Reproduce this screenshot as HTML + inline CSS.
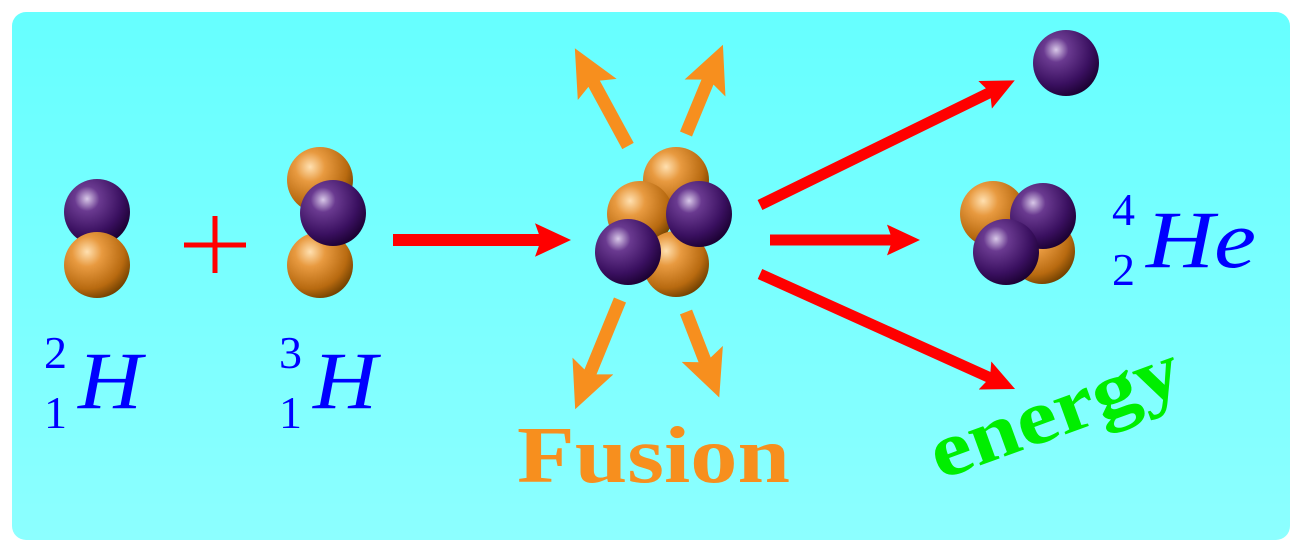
<!DOCTYPE html>
<html><head><meta charset="utf-8"><style>
html,body{margin:0;padding:0;background:#fff;width:1301px;height:551px;overflow:hidden}
svg{display:block}
</style></head><body>
<svg width="1301" height="551" viewBox="0 0 1301 551">
<defs>
<linearGradient id="bg" x1="0" y1="0" x2="0" y2="1"><stop offset="0" stop-color="#66ffff"/><stop offset="1" stop-color="#8cffff"/></linearGradient>
<radialGradient id="pu" cx="0.35" cy="0.3" r="0.75"><stop offset="0" stop-color="#d8c8e8"/><stop offset="0.25" stop-color="#6a3a90"/><stop offset="0.7" stop-color="#3a1060"/><stop offset="1" stop-color="#1a0030"/></radialGradient>
<radialGradient id="or" cx="0.35" cy="0.3" r="0.75"><stop offset="0" stop-color="#ffe0b0"/><stop offset="0.3" stop-color="#e89a40"/><stop offset="0.75" stop-color="#b86a10"/><stop offset="1" stop-color="#704000"/></radialGradient>
<marker id="rh" markerWidth="6" markerHeight="6" refX="1" refY="3" orient="auto" markerUnits="strokeWidth"><path d="M0,1.6 L3,3 L0,4.4 L0.5,3 Z" fill="#ff0000"/></marker>
<marker id="oh" markerWidth="6" markerHeight="6" refX="1" refY="3" orient="auto" markerUnits="strokeWidth"><path d="M0,1.3 L3.6,3 L0,4.7 L0.7,3 Z" fill="#f78f1e"/></marker>
</defs>
<rect x="12" y="12" width="1278" height="528" rx="14" fill="url(#bg)"/>
<g>
<circle cx="97" cy="212" r="33" fill="url(#pu)"/>
<circle cx="97" cy="265" r="33" fill="url(#or)"/>
</g>
<g stroke="#ff0000" stroke-width="5">
<line x1="184" y1="245" x2="246" y2="245"/><line x1="215" y1="216" x2="215" y2="273"/>
</g>
<g>
<circle cx="320" cy="180" r="33" fill="url(#or)"/>
<circle cx="320" cy="265" r="33" fill="url(#or)"/>
<circle cx="333" cy="213" r="33" fill="url(#pu)"/>
</g>
<line x1="393" y1="240" x2="547" y2="240" stroke="#ff0000" stroke-width="12" marker-end="url(#rh)"/>
<g>
<circle cx="676" cy="180" r="33" fill="url(#or)"/>
<circle cx="640" cy="214" r="33" fill="url(#or)"/>
<circle cx="676" cy="264" r="33" fill="url(#or)"/>
<circle cx="699" cy="214" r="33" fill="url(#pu)"/>
<circle cx="628" cy="252" r="33" fill="url(#pu)"/>
</g>
<g stroke="#f78f1e" stroke-width="13">
<line x1="628" y1="146" x2="591" y2="78" marker-end="url(#oh)"/>
<line x1="686" y1="134" x2="710" y2="76" marker-end="url(#oh)"/>
<line x1="620" y1="300" x2="588" y2="378" marker-end="url(#oh)"/>
<line x1="686" y1="312" x2="707" y2="366" marker-end="url(#oh)"/>
</g>
<g stroke="#ff0000" stroke-width="11">
<line x1="760" y1="205" x2="995" y2="90" marker-end="url(#rh)"/>
<line x1="770" y1="240" x2="898" y2="240" marker-end="url(#rh)"/>
<line x1="760" y1="274" x2="995" y2="380" marker-end="url(#rh)"/>
</g>
<circle cx="1066" cy="63" r="33" fill="url(#pu)"/>
<g>
<circle cx="993" cy="214" r="33" fill="url(#or)"/>
<circle cx="1042" cy="251" r="33" fill="url(#or)"/>
<circle cx="1043" cy="216" r="33" fill="url(#pu)"/>
<circle cx="1006" cy="252" r="33" fill="url(#pu)"/>
</g>
<g font-family="'Liberation Serif',serif" fill="#0000ff">
<g>
<text x="44" y="368" font-size="46">2</text><text x="44" y="428" font-size="46">1</text>
<text x="78" y="408" font-size="82" font-style="italic" textLength="64" lengthAdjust="spacingAndGlyphs">H</text></g>
<g>
<text x="279" y="368" font-size="46">3</text><text x="279" y="428" font-size="46">1</text>
<text x="313" y="408" font-size="82" font-style="italic" textLength="64" lengthAdjust="spacingAndGlyphs">H</text></g>
<g>
<text x="1112" y="225" font-size="46">4</text><text x="1112" y="285" font-size="46">2</text>
<text x="1146" y="267" font-size="82" font-style="italic" textLength="110" lengthAdjust="spacingAndGlyphs">He</text></g>
</g>
<text x="517" y="482" font-family="'Liberation Serif',serif" font-weight="bold" font-size="80" fill="#f78f1e" textLength="273" lengthAdjust="spacingAndGlyphs">Fusion</text>
<text x="0" y="0" transform="translate(940,480) rotate(-20)" font-family="'Liberation Serif',serif" font-weight="bold" font-size="78" fill="#00ee00" textLength="262" lengthAdjust="spacingAndGlyphs">energy</text>
</svg>
</body></html>
